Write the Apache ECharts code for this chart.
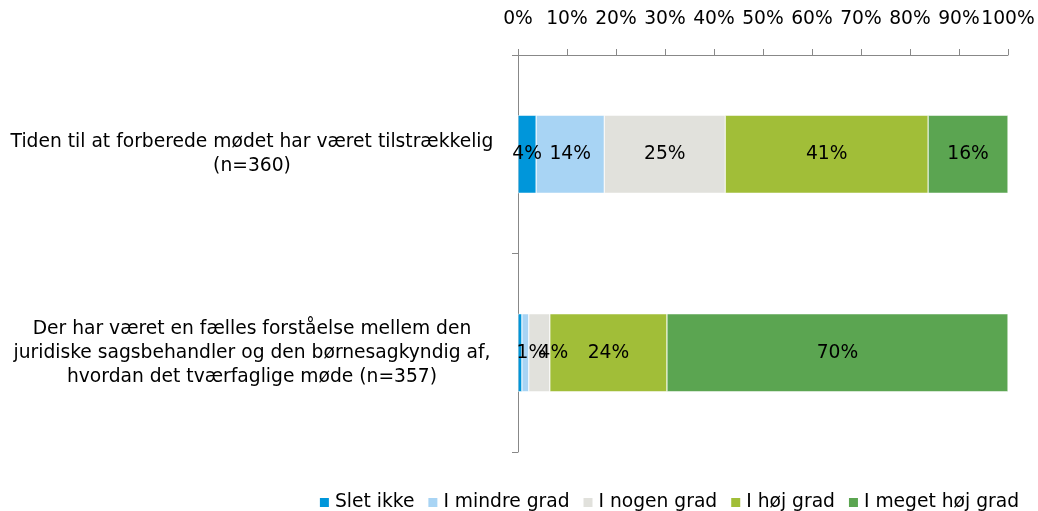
<!DOCTYPE html>
<html>
<head>
<meta charset="utf-8">
<script src="https://cdn.jsdelivr.net/npm/echarts@6/dist/echarts.min.js"></script>
<style>
  html, body { margin: 0; padding: 0; background: #fff; }
  #main { width: 1038px; height: 511px; }
</style>
</head>
<body>
<div id="main"></div>
<script>
const categories = [
  'Tiden til at forberede mødet har været tilstrækkelig\n(n=360)',
  'Der har været en fælles forståelse mellem den\njuridiske sagsbehandler og den børnesagkyndig af,\nhvordan det tværfaglige møde (n=357)'
];
const seriesNames = ['Slet ikke', 'I mindre grad', 'I nogen grad', 'I høj grad', 'I meget høj grad'];
const sletIkke = [3.7, 0.8];
const mindreGrad = [13.9, 1.4];
const nogenGrad = [24.7, 4.3];
const hoejGrad = [41.4, 23.9];
const megetHoejGrad = [16.3, 69.6];
const colors = ['#0096DA', '#A8D4F4', '#E1E1DC', '#A1BE38', '#5BA551'];

const font = 'DejaVu Sans';
const fs = 18.7;
const chartDom = document.getElementById('main');
const myChart = echarts.init(chartDom);

// small segments in the 2nd bar: labels pushed apart like in the original
const labelTweak = {
  0: { 1: { show: false } },
  1: { 1: { offset: [6, 0] } },
  2: { 1: { offset: [14, 0] } }
};

const makeSeries = (name, values, i) => ({
  name: name,
  type: 'bar',
  stack: 'total',
  data: values.map((v, j) => {
    const t = labelTweak[i] && labelTweak[i][j];
    return t ? { value: v, label: t } : v;
  }),
  barWidth: 78,
  itemStyle: { color: colors[i], borderColor: '#fff', borderWidth: 0.5 },
  label: {
    show: true,
    position: 'inside',
    color: '#000',
    fontFamily: font,
    fontSize: fs,
    formatter: p => Math.round(p.value) + '%'
  }
});

const option = {
  animation: false,
  textStyle: { fontFamily: font },
  grid: { left: 518, right: 30, top: 55, bottom: 59 },
  legend: {
    bottom: -6,
    right: 14,
    icon: 'rect',
    itemWidth: 11,
    itemHeight: 11,
    itemGap: 12,
    textStyle: { fontFamily: font, fontSize: fs, color: '#000' },
    data: seriesNames
  },
  xAxis: {
    type: 'value',
    position: 'top',
    min: 0,
    max: 100,
    interval: 10,
    axisLine: { show: true, lineStyle: { color: '#888' } },
    axisTick: { show: true, length: 6, lineStyle: { color: '#888' } },
    splitLine: { show: false },
    axisLabel: { color: '#000', fontFamily: font, fontSize: fs, margin: 26, formatter: '{value}%' }
  },
  yAxis: {
    type: 'category',
    inverse: true,
    data: categories,
    axisLine: { lineStyle: { color: '#888' } },
    axisTick: { show: true, length: 6, lineStyle: { color: '#888' } },
    axisLabel: {
      color: '#000',
      fontFamily: font,
      fontSize: fs,
      lineHeight: 24,
      align: 'center',
      margin: 266
    }
  },
  series: [
    makeSeries(seriesNames[0], sletIkke, 0),
    makeSeries(seriesNames[1], mindreGrad, 1),
    makeSeries(seriesNames[2], nogenGrad, 2),
    makeSeries(seriesNames[3], hoejGrad, 3),
    makeSeries(seriesNames[4], megetHoejGrad, 4)
  ]
};
option && myChart.setOption(option);
</script>
</body>
</html>
